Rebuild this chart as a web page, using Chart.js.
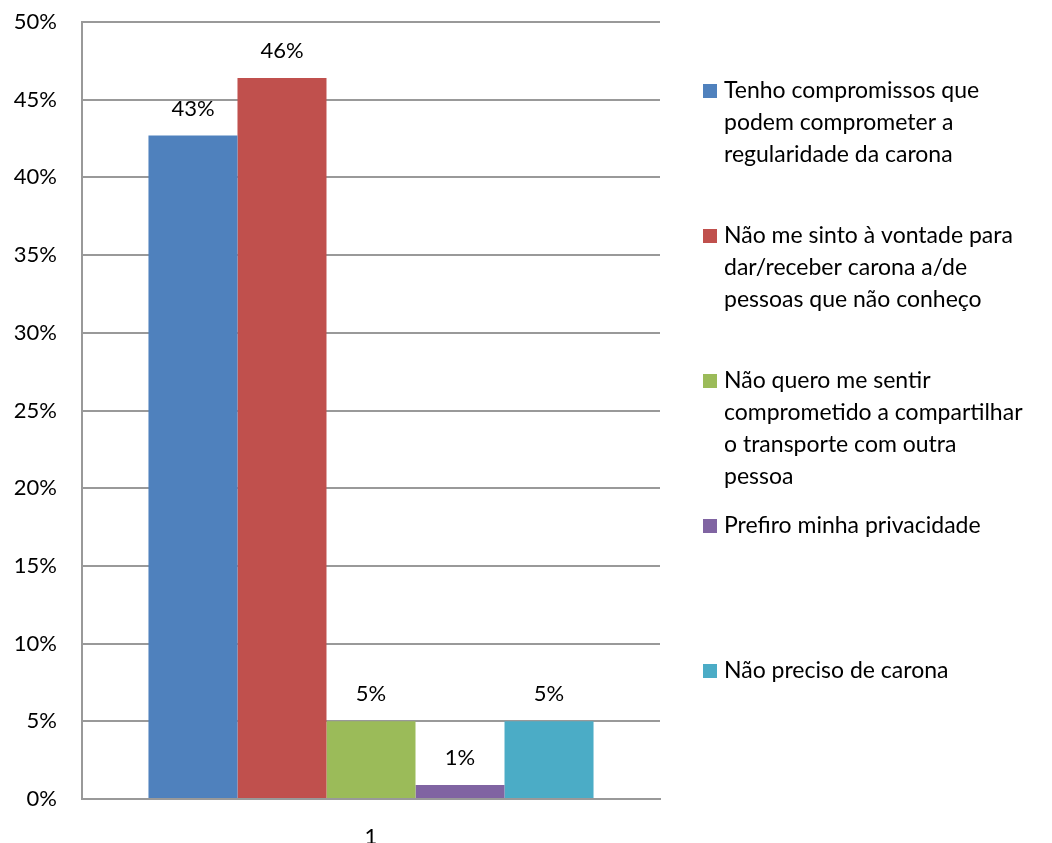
<!DOCTYPE html>
<html>
<head>
<meta charset="utf-8">
<script src="https://cdn.jsdelivr.net/npm/chart.js@4"></script>
<style>
  html, body { margin: 0; padding: 0; background: #fff; }
  #wrap { width: 1052px; height: 843px; }
</style>
</head>
<body>
<div id="wrap"><canvas id="chart" width="1052" height="843"></canvas></div>
<script>
// data
const categories = ['1'];
const seriesNames = [
    ['Tenho compromissos que', 'podem comprometer a', 'regularidade da carona'],
    ['Não me sinto à vontade para', 'dar/receber carona a/de', 'pessoas que não conheço'],
    ['Não quero me sentir', 'comprometido a compartilhar', 'o transporte com outra', 'pessoa'],
    ['Prefiro minha privacidade'],
    ['Não preciso de carona']
];
const seriesValues = [42.7, 46.4, 5.0, 0.9, 5.0];
const seriesColors = ['#4F81BD', '#C0504D', '#9BBB59', '#8064A2', '#4BACC6'];
const yTicks = [0, 5, 10, 15, 20, 25, 30, 35, 40, 45, 50];

const FONT = 'Lato, "Open Sans", sans-serif';

// value labels on top of bars
const barLabels = {
    id: 'barLabels',
    afterDatasetsDraw(chart) {
        const ctx = chart.ctx;
        ctx.save();
        ctx.font = '22px ' + FONT;
        ctx.fillStyle = '#000';
        ctx.textAlign = 'center';
        ctx.textBaseline = 'middle';
        chart.data.datasets.forEach((ds, i) => {
            const meta = chart.getDatasetMeta(i);
            meta.data.forEach((bar, j) => {
                ctx.fillText(Math.round(ds.data[j]) + '%', bar.x, bar.y - 27);
            });
        });
        ctx.restore();
    }
};

// legend on the right, with wrapped text
const sideLegend = {
    id: 'sideLegend',
    afterDraw(chart) {
        const ctx = chart.ctx;
        const area = chart.chartArea;
        const boxX = area.right + 43;
        const textX = area.right + 64;
        const lineH = 32;
        ctx.save();
        ctx.font = '23px ' + FONT;
        ctx.textAlign = 'left';
        ctx.textBaseline = 'middle';
        chart.data.datasets.forEach((ds, i) => {
            const y0 = area.top + 69 + i * 145;
            ctx.fillStyle = ds.backgroundColor;
            ctx.fillRect(boxX, y0 - 7, 14, 14);
            ctx.fillStyle = '#000';
            ds.lines.forEach((line, k) => {
                ctx.fillText(line, textX, y0 + k * lineH);
            });
        });
        ctx.restore();
    }
};

const datasets = seriesNames.map((lines, i) => ({
    label: lines.join(' '),
    lines: lines,
    data: [seriesValues[i]],
    backgroundColor: seriesColors[i],
    borderWidth: 0,
    categoryPercentage: 0.77,
    barPercentage: 1.0
}));

new Chart(document.getElementById('chart').getContext('2d'), {
    type: 'bar',
    data: { labels: categories, datasets: datasets },
    options: {
        responsive: false,
        animation: false,
        layout: { padding: { left: 0, right: 392, top: 22, bottom: 0 } },
        plugins: {
            legend: { display: false },
            tooltip: { enabled: false }
        },
        scales: {
            x: {
                grid: { display: false, drawTicks: false },
                border: { display: true, color: '#999', width: 2 },
                ticks: { color: '#000', font: { family: FONT, size: 22 }, padding: 25 },
                afterFit(scale) { scale.height = 44; }
            },
            y: {
                min: 0,
                max: 50,
                afterBuildTicks(scale) { scale.ticks = yTicks.map(v => ({ value: v })); },
                grid: { color: '#999', lineWidth: 2, drawTicks: true, tickLength: 25, tickColor: 'rgba(0,0,0,0)' },
                border: { display: true, color: '#999', width: 2 },
                ticks: {
                    color: '#000',
                    font: { family: FONT, size: 22 },
                    padding: 0,
                    callback: v => v + '%'
                },
                afterFit(scale) { scale.width = 82; }
            }
        }
    },
    plugins: [barLabels, sideLegend]
});
</script>
</body>
</html>
